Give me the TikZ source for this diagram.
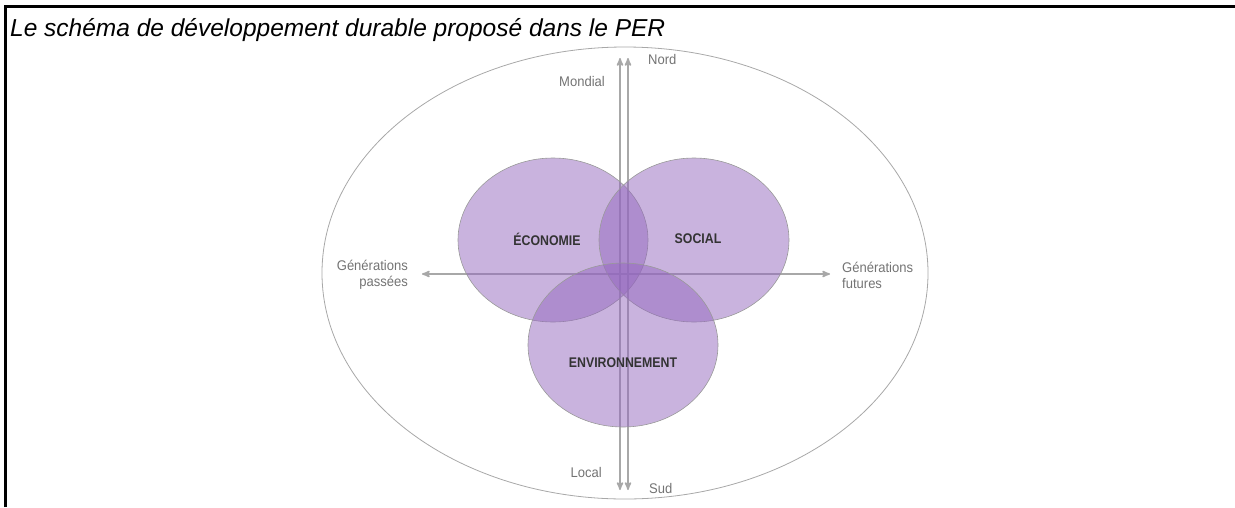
\documentclass[tikz,border=0pt]{standalone}
\usepackage{fontspec}
\setmainfont{Liberation Sans}
\newfontfamily\etiqfont[FakeStretch=0.93]{Liberation Sans}
\newfontfamily\domfont[FakeStretch=0.88]{Liberation Sans}
\usepackage{tikz}
\usetikzlibrary{arrows, shapes.geometric}
\definecolor{violet}{RGB}{148,104,190}
\definecolor{axe}{RGB}{168,168,168}
\tikzset{
	etiquette/.style={inner sep=0pt, text=black!55, font=\etiqfont\fontsize{14}{16}\selectfont},
	domaine/.style={inner sep=0pt, text=black!80, font=\domfont\bfseries\fontsize{14}{16}\selectfont},
	cercle/.style={ellipse, draw=black!40, line width=0.6pt, fill=violet, fill opacity=0.5, inner sep=0pt},
	fleche/.style={draw=axe, line width=1.6pt, >=stealth', <->}
}
\begin{document}
\begin{tikzpicture}[x=1pt, y=-1pt]
	\useasboundingbox (0,0) rectangle (1235,507);
	\def \rx {95}
	\def \ry {82}

	\draw[line width=2.5pt] (5.5,507) -- (5.5,6.5) -- (1235,6.5);
	\node[anchor=base west, inner sep=0pt, font=\itshape\fontsize{24.5}{28}\selectfont] (titre) at (10,36) {Le schéma de développement durable proposé dans le PER};

	\node[ellipse, draw=axe, line width=0.8pt, minimum width=606pt, minimum height=452pt, inner sep=0pt] (monde) at (625,273) {};

	\coordinate (mondialhaut) at (620,58);
	\coordinate (mondialbas) at (620,490);
	\coordinate (nordhaut) at (628,58);
	\coordinate (nordbas) at (628,490);
	\coordinate (passe) at (422,274);
	\coordinate (futur) at (830,274);
	\draw[fleche] (mondialbas) -- (mondialhaut);
	\draw[fleche] (nordbas) -- (nordhaut);
	\draw[fleche] (passe) -- (futur);

	\foreach \nom/\cx/\cy in {eco/553/240, soc/694/240, env/623/345}
	{
		\node[cercle, minimum width=2*\rx pt, minimum height=2*\ry pt] (\nom) at (\cx,\cy) {};
	}

	\node[domaine] (ecotxt) at (547,239) {ÉCONOMIE};
	\node[domaine] (soctxt) at (698,239) {SOCIAL};
	\node[domaine] (envtxt) at (623,363) {ENVIRONNEMENT};

	\node[etiquette, anchor=east] (mondial) at (605,81) {Mondial};
	\node[etiquette, anchor=west] (nord) at (648,59) {Nord};
	\node[etiquette, anchor=east] (local) at (602,472) {Local};
	\node[etiquette, anchor=west] (sud) at (649,488) {Sud};
	\node[etiquette, anchor=east, align=right] (passees) at (408,275) {Générations\\passées};
	\node[etiquette, anchor=west, align=left] (futures) at (842,275) {Générations\\futures};
\end{tikzpicture}
\end{document}
